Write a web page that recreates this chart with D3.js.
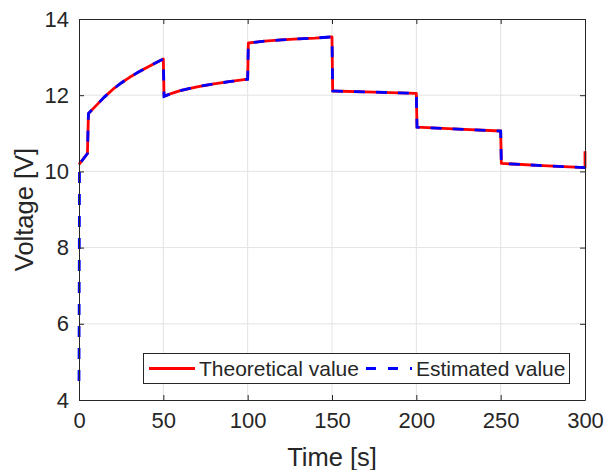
<!DOCTYPE html>
<html>
<head>
<meta charset="utf-8">
<script src="https://cdn.jsdelivr.net/npm/d3@7"></script>
<style>
  body { margin: 0; background: #fff; }
  text { font-family: "Liberation Sans", Arial, sans-serif; fill: #262626; }
</style>
</head>
<body>
<div id="chart"></div>
<script>
// time [s] and voltage [V]
const time = [0, 0.3, 5, 5.6, 10, 15, 20, 25, 30, 35, 40, 45, 50,
  50.4, 55, 60, 70, 80, 90, 100,
  100.4, 110, 120, 130, 140, 150,
  150.4, 175, 200,
  200.4, 225, 250,
  250.4, 275, 300, 300];
const theoretical = [10.18, 10.2, 10.47, 11.52, 11.72, 11.95, 12.15, 12.32, 12.47, 12.6, 12.72, 12.84, 12.95,
  11.97, 12.05, 12.12, 12.22, 12.3, 12.36, 12.42,
  13.37, 13.42, 13.45, 13.48, 13.5, 13.53,
  12.11, 12.08, 12.05,
  11.16, 11.11, 11.06,
  10.21, 10.15, 10.1, 10.53];
// estimator starts low and has no end spike
const estimated = [4.5, 10.2, 10.47, 11.52, 11.72, 11.95, 12.15, 12.32, 12.47, 12.6, 12.72, 12.84, 12.95,
  11.97, 12.05, 12.12, 12.22, 12.3, 12.36, 12.42,
  13.37, 13.42, 13.45, 13.48, 13.5, 13.53,
  12.11, 12.08, 12.05,
  11.16, 11.11, 11.06,
  10.21, 10.15, 10.1];
const xTicks = [0, 50, 100, 150, 200, 250, 300];
const yTicks = [4, 6, 8, 10, 12, 14];
const legendLabels = ["Theoretical value", "Estimated value"];

const width = 607, height = 470;
const margin = {top: 19, right: 22, bottom: 70, left: 79};

const svg = d3.select("#chart").append("svg")
  .attr("width", width)
  .attr("height", height);

const x = d3.scaleLinear().domain([0, 300]).range([margin.left, width - margin.right]);
const y = d3.scaleLinear().domain([4, 14]).range([height - margin.bottom, margin.top]);

// grid
svg.append("g").selectAll("line.gx")
  .data(xTicks.slice(1, -1)).enter().append("line")
  .attr("x1", d => x(d)).attr("x2", d => x(d))
  .attr("y1", y(4)).attr("y2", y(14))
  .attr("stroke", "#e3e3e3").attr("stroke-width", 1);
svg.append("g").selectAll("line.gy")
  .data(yTicks.slice(1, -1)).enter().append("line")
  .attr("x1", x(0)).attr("x2", x(300))
  .attr("y1", d => y(d)).attr("y2", d => y(d))
  .attr("stroke", "#e3e3e3").attr("stroke-width", 1);

// lines
const line = d3.line().x(d => x(d[0])).y(d => y(d[1]));
svg.append("path")
  .datum(time.map((t, i) => [t, theoretical[i]]))
  .attr("d", line)
  .attr("fill", "none").attr("stroke", "#ff0000").attr("stroke-width", 2.8)
  .attr("stroke-linejoin", "round");
svg.append("path")
  .datum(estimated.map((v, i) => [time[i], v]))
  .attr("d", line)
  .attr("fill", "none").attr("stroke", "#0000ff").attr("stroke-width", 2.8)
  .attr("stroke-dasharray", "11,11");

// axes (MATLAB-style inward ticks, box on)
const axBottom = svg.append("g").attr("transform", "translate(0," + y(4) + ")")
  .call(d3.axisBottom(x).tickValues(xTicks).tickSizeInner(-5).tickSizeOuter(0).tickPadding(12));
const axTop = svg.append("g").attr("transform", "translate(0," + y(14) + ")")
  .call(d3.axisTop(x).tickValues(xTicks).tickSizeInner(-5).tickSizeOuter(0).tickFormat(""));
const axLeft = svg.append("g").attr("transform", "translate(" + x(0) + ",0)")
  .call(d3.axisLeft(y).tickValues(yTicks).tickSizeInner(-5).tickSizeOuter(0).tickPadding(10));
const axRight = svg.append("g").attr("transform", "translate(" + x(300) + ",0)")
  .call(d3.axisRight(y).tickValues(yTicks).tickSizeInner(-5).tickSizeOuter(0).tickFormat(""));

[axBottom, axTop, axLeft, axRight].forEach(g => {
  g.select(".domain").attr("stroke", "#262626").attr("stroke-width", 1);
  g.selectAll(".tick line").attr("stroke", "#262626");
  g.selectAll("text").style("font-size", "22px").attr("fill", "#262626")
    .style("font-family", "'Liberation Sans', Arial, sans-serif");
});

// axis labels
svg.append("text")
  .attr("x", (x(0) + x(300)) / 2).attr("y", 466)
  .attr("text-anchor", "middle")
  .style("font-size", "25.5px")
  .text("Time [s]");
svg.append("text")
  .attr("transform", "translate(33," + (y(9)) + ") rotate(-90)")
  .attr("text-anchor", "middle")
  .style("font-size", "25.5px")
  .text("Voltage [V]");

// legend
const lg = svg.append("g");
lg.append("rect")
  .attr("x", 143.5).attr("y", 353.5).attr("width", 426).attr("height", 30)
  .attr("fill", "#fff").attr("stroke", "#262626").attr("stroke-width", 1);
const legendItems = [
  {label: legendLabels[0], color: "#ff0000", dash: null, x0: 149, tx: 199},
  {label: legendLabels[1], color: "#0000ff", dash: "10,12", x0: 366, tx: 416}
];
legendItems.forEach(d => {
  lg.append("line")
    .attr("x1", d.x0).attr("x2", d.x0 + 46)
    .attr("y1", 368.5).attr("y2", 368.5)
    .attr("stroke", d.color).attr("stroke-width", 2.8)
    .attr("stroke-dasharray", d.dash);
  lg.append("text")
    .attr("x", d.tx).attr("y", 376)
    .style("font-size", "21px")
    .attr("fill", "#000")
    .text(d.label);
});
</script>
</body>
</html>
